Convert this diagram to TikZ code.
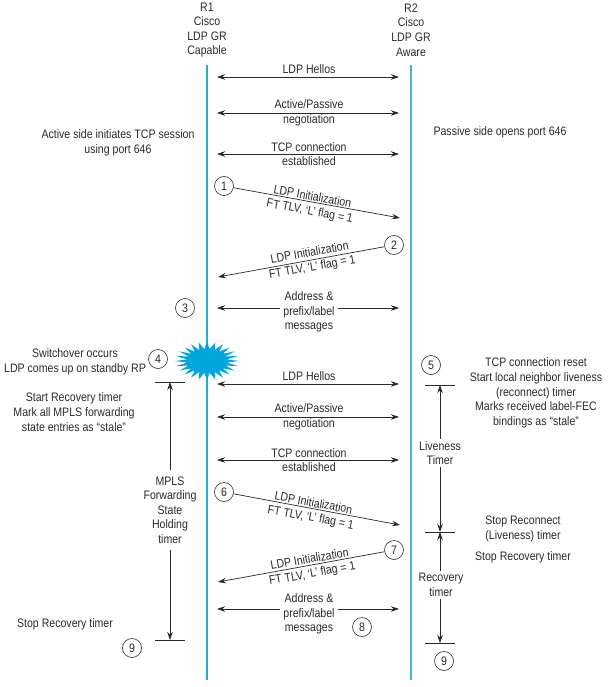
\documentclass[tikz,border=0pt]{standalone}
\usepackage{fontspec}
\setmainfont[FakeStretch=0.86]{Liberation Sans}
\usetikzlibrary{arrows.meta,shapes.geometric}
\definecolor{lifeline}{HTML}{25ADD2}
\definecolor{lifelineb}{HTML}{4FB5CE}
\definecolor{burst}{HTML}{00A6DC}
\definecolor{ink}{HTML}{2A2A2A}
\tikzset{
  x=1pt,y=-1pt,
  every node/.style={font=\fontsize{12.3}{14.6}\selectfont,text=ink},
  txt/.style={align=center,inner sep=0pt},
  bg/.style={txt,fill=white,inner ysep=2pt,inner xsep=3pt},
  num/.style={circle,draw=ink,line width=.6pt,fill=white,minimum size=19pt,inner sep=0pt},
  life/.style={line width=1.3pt},
  msg/.style={draw=ink,line width=.7pt,{Stealth[length=8pt,width=5.5pt]}-{Stealth[length=8pt,width=5.5pt]}},
  oneway/.style={draw=ink,line width=.7pt,-{Stealth[length=8pt,width=5.5pt]}},
  tick/.style={draw=ink,line width=.7pt},
}
\begin{document}
\begin{tikzpicture}
\useasboundingbox (0,0) rectangle (612,687);
% headers
\node[txt] (r1) at (207,30) {R1\\Cisco\\LDP GR\\Capable};
\node[txt] (r2) at (411,30) {R2\\Cisco\\LDP GR\\Aware};
% lifelines
\coordinate (l1t) at (207,65); \coordinate (l1b) at (207,680);
\coordinate (l2t) at (411,65); \coordinate (l2b) at (411,680);
\draw[life,draw=lifeline] (l1t) -- (l1b);
\draw[life,draw=lifelineb] (l2t) -- (l2b);
% burst
\begin{scope}[shift={(207,361)},yscale=.6]
\node[star,star points=24,star point ratio=1.6,minimum size=64pt,inner sep=0pt,fill=burst,transform shape] (burst) at (0,0) {};
\end{scope}
% message end points
\foreach \n/\y in {a/77,b/113,c/154,d/308,e/384,f/417,g/460,h/609}{
  \coordinate (\n L) at (217,\y); \coordinate (\n R) at (399,\y);
}
\draw[msg] (aL) -- (aR);
\draw[msg] (bL) -- (bR);
\draw[msg] (cL) -- (cR);
\draw[msg] (dL) -- (dR);
\draw[msg] (eL) -- (eR);
\draw[msg] (fL) -- (fR);
\draw[msg] (gL) -- (gR);
\draw[msg] (hL) -- (hR);
\node[txt] (ta) at (309,69) {LDP Hellos};
\node[txt] (tb) at (309,113) {Active/Passive\\negotiation};
\node[txt] (tc) at (309,154) {TCP connection\\established};
\node[bg] (td) at (309,312) {Address \&\\prefix/label\\messages};
\node[txt] (te) at (309,376) {LDP Hellos};
\node[txt] (tf) at (309,417) {Active/Passive\\negotiation};
\node[txt] (tg) at (309,460) {TCP connection\\established};
\node[bg] (th) at (309,614) {Address \&\\prefix/label\\messages};
% numbered circles
\node[num] (n1) at (224,186) {1};
\node[num] (n2) at (394,245) {2};
\node[num] (n3) at (185,308) {3};
\node[num] (n4) at (158,359) {4};
\node[num] (n5) at (431,365) {5};
\node[num] (n6) at (224,492) {6};
\node[num] (n7) at (394,550) {7};
\node[num] (n8) at (362,627) {8};
\node[num] (n9a) at (132,648) {9};
\node[num] (n9b) at (444,661) {9};
% init messages
\coordinate (i1) at (400,218); \coordinate (i2) at (218,277);
\coordinate (i6) at (400,525); \coordinate (i7) at (218,582);
\draw[oneway] (n1) -- (i1);
\draw[oneway] (n2) -- (i2);
\draw[oneway] (n6) -- (i6);
\draw[oneway] (n7) -- (i7);
\node[txt,rotate=-10.5] (t1) at (311,204.5) {LDP Initialization\\FT TLV, ‘L’ flag = 1};
\node[txt,rotate=10] (t2) at (311,260.5) {LDP Initialization\\FT TLV, ‘L’ flag = 1};
\node[txt,rotate=-10.5] (t6) at (312,511) {LDP Initialization\\FT TLV, ‘L’ flag = 1};
\node[txt,rotate=10] (t7) at (311,567) {LDP Initialization\\FT TLV, ‘L’ flag = 1};
% timers
\foreach \n/\xa/\xb/\y in {p/155/185/382,q/155/185/640,r/425/455/385,s/425/455/532,u/425/455/643}{
  \coordinate (\n L) at (\xa,\y); \coordinate (\n R) at (\xb,\y);
}
\draw[tick] (pL) -- (pR);
\draw[tick] (qL) -- (qR);
\draw[tick] (rL) -- (rR);
\draw[tick] (sL) -- (sR);
\draw[tick] (uL) -- (uR);
\coordinate (pm) at (170,382); \coordinate (qm) at (170,640);
\coordinate (rm) at (440,385); \coordinate (sm) at (440,532); \coordinate (um) at (440,643);
\draw[msg] (pm) -- (qm);
\draw[msg] (rm) -- (sm);
\draw[msg] (sm) -- (um);
\node[bg,inner ysep=6pt] (tm) at (170,510) {MPLS\\Forwarding\\State\\Holding\\timer};
\node[bg] (tl) at (440,453) {Liveness\\Timer};
\node[bg] (tr) at (441,585) {Recovery\\timer};
% side notes
\node[txt] (s1) at (118,143) {Active side initiates TCP session\\using port 646};
\node[txt] (s2) at (500,132) {Passive side opens port 646};
\node[txt] (s3) at (75,362) {Switchover occurs\\LDP comes up on standby RP};
\node[txt] (s4) at (74,412) {Start Recovery timer\\Mark all MPLS forwarding\\state entries as “stale”};
\node[txt] (s5) at (536,393) {TCP connection reset\\Start local neighbor liveness\\(reconnect) timer\\Marks received label-FEC\\bindings as “stale”};
\node[txt] (s6) at (523,529) {Stop Reconnect\\(Liveness) timer};
\node[txt] (s7) at (523,557) {Stop Recovery timer};
\node[txt] (s8) at (65,624) {Stop Recovery timer};
\end{tikzpicture}
\end{document}
